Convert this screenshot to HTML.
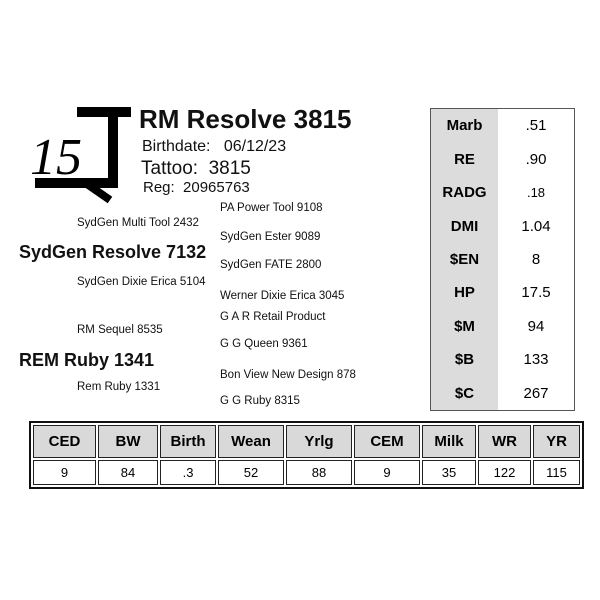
<!DOCTYPE html>
<html><head><style>
body{margin:0;width:600px;height:600px;background:#fff;position:relative;font-family:"Liberation Sans",sans-serif;overflow:hidden}
.t{position:absolute;white-space:nowrap;color:#111}
.p{font-size:11.5px}
table{border-collapse:separate;position:absolute;table-layout:fixed}
.side{left:430px;top:108px;width:145px;height:303px;border:1.5px solid #555;border-spacing:0}
.side td{text-align:center;font-size:15px;height:33px;padding:0;line-height:33px}
.side td.h{background:#dcdcdc;font-weight:bold;width:67px}
.bot{left:29px;top:421px;width:555px;height:68px;border:2px solid #111;border-spacing:2px;background:#fff}
.bot td{border:1.5px solid #222;text-align:center;font-size:13px;padding:0}
.bot tr.h td{background:#d9d9d9;font-weight:bold;font-size:15px;height:31px}
</style></head><body>
<svg style="position:absolute;left:0;top:0" width="200" height="220">
<rect x="77" y="107" width="54" height="10" fill="#000"/>
<rect x="108" y="107" width="10" height="80" fill="#000"/>
<rect x="35" y="178" width="83" height="10" fill="#000"/>
<line x1="84" y1="182" x2="110" y2="200" stroke="#000" stroke-width="8"/>
<text x="30" y="174" font-family="Liberation Serif" font-style="italic" font-size="52">15</text>
</svg>
<div class="t" style="left:139px;top:104px;font-size:26px;font-weight:bold">RM Resolve 3815</div>
<div class="t" style="left:142px;top:138px;font-size:16px">Birthdate:&nbsp;&nbsp; 06/12/23</div>
<div class="t" style="left:141px;top:158px;font-size:19px">Tattoo:&nbsp; 3815</div>
<div class="t" style="left:143px;top:179px;font-size:15px">Reg:&nbsp; 20965763</div>
<div class="t p" style="left:220px;top:202px">PA Power Tool 9108</div>
<div class="t p" style="left:77px;top:217px">SydGen Multi Tool 2432</div>
<div class="t p" style="left:220px;top:231px">SydGen Ester 9089</div>
<div class="t" style="left:19px;top:242px;font-size:18px;font-weight:bold">SydGen Resolve 7132</div>
<div class="t p" style="left:220px;top:259px">SydGen FATE 2800</div>
<div class="t p" style="left:77px;top:276px">SydGen Dixie Erica 5104</div>
<div class="t p" style="left:220px;top:290px">Werner Dixie Erica 3045</div>
<div class="t p" style="left:220px;top:311px">G A R Retail Product</div>
<div class="t p" style="left:77px;top:324px">RM Sequel 8535</div>
<div class="t p" style="left:220px;top:338px">G G Queen 9361</div>
<div class="t" style="left:19px;top:350px;font-size:18px;font-weight:bold">REM Ruby 1341</div>
<div class="t p" style="left:220px;top:369px">Bon View New Design 878</div>
<div class="t p" style="left:77px;top:381px">Rem Ruby 1331</div>
<div class="t p" style="left:220px;top:395px">G G Ruby 8315</div>
<table class="side">
<tr><td class="h">Marb</td><td>.51</td></tr>
<tr><td class="h">RE</td><td>.90</td></tr>
<tr><td class="h">RADG</td><td style="font-size:13px">.18</td></tr>
<tr><td class="h">DMI</td><td>1.04</td></tr>
<tr><td class="h">$EN</td><td>8</td></tr>
<tr><td class="h">HP</td><td>17.5</td></tr>
<tr><td class="h">$M</td><td>94</td></tr>
<tr><td class="h">$B</td><td>133</td></tr>
<tr><td class="h">$C</td><td>267</td></tr>
</table>
<table class="bot">
<colgroup><col style="width:63px"><col style="width:60px"><col style="width:56px"><col style="width:66px"><col style="width:66px"><col style="width:66px"><col style="width:54px"><col style="width:53px"><col></colgroup>
<tr class="h"><td>CED</td><td>BW</td><td>Birth</td><td>Wean</td><td>Yrlg</td><td>CEM</td><td>Milk</td><td>WR</td><td>YR</td></tr>
<tr><td>9</td><td>84</td><td>.3</td><td>52</td><td>88</td><td>9</td><td>35</td><td>122</td><td>115</td></tr>
</table>
</body></html>
